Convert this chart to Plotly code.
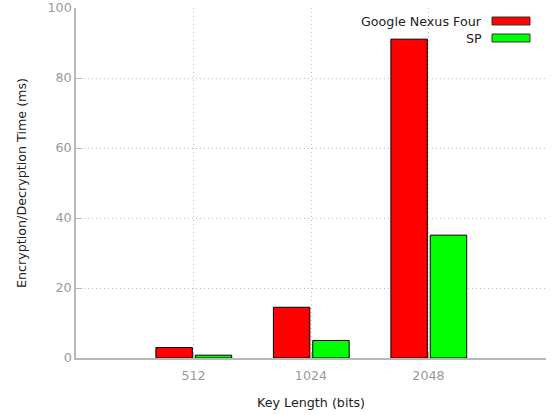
import plotly.graph_objects as go

categories = ["512", "1024", "2048"]
series_names = ["Google Nexus Four", "SP"]
nexus_values = [3.0, 14.5, 91.1]
sp_values = [0.8, 5.0, 35.1]
series_colors = ["#ff0000", "#00ff00"]
y_ticks = [0, 20, 40, 60, 80, 100]

FONT = "DejaVu Sans"
FS = 12.7
fig = go.Figure()
for name, vals, col, off in zip(series_names, [nexus_values, sp_values], series_colors, [-0.32, 0.015]):
    fig.add_trace(go.Bar(
        x=categories, y=vals, name=name, width=0.31, offset=off,
        marker=dict(color=col, line=dict(color="#000000", width=1)),
        showlegend=False,
    ))

L, R, T, B = 76, 6, 8, 57
W, H = 552, 415
pw, ph = W - L - R, H - T - B

def px(x):
    return (x - L) / pw

def py(y):
    return (H - B - y) / ph

# legend (text right-aligned, swatch at the right as in the reference)
leg_y = [21, 38]
for name, col, yc in zip(series_names, series_colors, leg_y):
    fig.add_annotation(x=px(484), y=py(yc), xref="paper", yref="paper", text=name,
                       showarrow=False, xanchor="right", yanchor="middle",
                       font=dict(family=FONT, size=FS, color="#222222"))
    fig.add_shape(type="rect", xref="paper", yref="paper",
                  x0=px(492), x1=px(530), y0=py(yc + 4), y1=py(yc - 4),
                  fillcolor=col, line=dict(color="#333333", width=1))

fig.update_layout(
    width=W, height=H,
    margin=dict(l=L, r=R, t=T, b=B, autoexpand=False),
    plot_bgcolor="white", paper_bgcolor="white",
    barmode="group",
    font=dict(family=FONT, size=FS, color="#222222"),
)
fig.update_xaxes(
    type="category", range=[-1, 3],
    showline=True, linecolor="#b8b8b8", linewidth=1.5,
    showgrid=True, gridcolor="#c0c0c0", griddash="1px,3px", gridwidth=1,
    ticks="inside", ticklen=6, tickcolor="#b8b8b8",
    ticklabelstandoff=5,
    tickfont=dict(family=FONT, size=FS, color="#999999"),
    title=dict(text="Key Length (bits)", font=dict(family=FONT, size=FS, color="#222222"), standoff=16),
    automargin=False,
)
fig.update_yaxes(
    range=[0, 100.001], tickvals=y_ticks,
    showline=True, linecolor="#b8b8b8", linewidth=1.5,
    showgrid=True, gridcolor="#c0c0c0", griddash="1px,3px", gridwidth=1,
    zeroline=False,
    ticks="inside", ticklen=6, tickcolor="#b8b8b8",
    ticklabeloverflow="allow",
    tickfont=dict(family=FONT, size=FS, color="#999999"),
    title=dict(text="Encryption/Decryption Time (ms)", font=dict(family=FONT, size=FS, color="#222222"), standoff=18),
    automargin=False,
)
fig.write_html("out.html")
